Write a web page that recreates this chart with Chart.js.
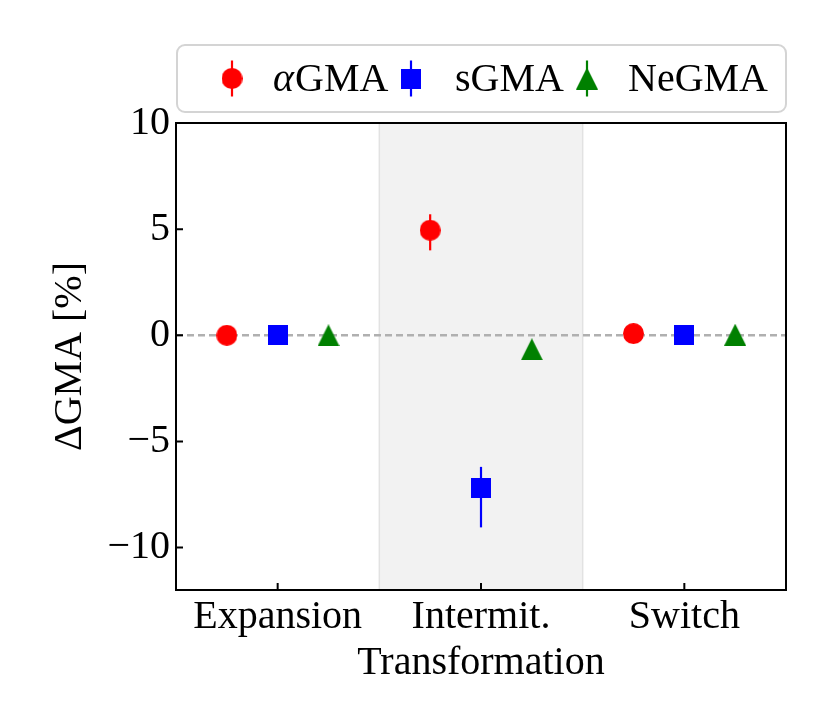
<!DOCTYPE html>
<html>
<head>
<meta charset="utf-8">
<script src="https://cdn.jsdelivr.net/npm/chart.js@4.4.0/dist/chart.umd.min.js"></script>
<style>
    html, body { margin: 0; padding: 0; background: #fff; }
    #wrap { width: 830px; height: 727px; }
</style>
</head>
<body>
<div id="wrap"><canvas id="chart" width="830" height="727"></canvas></div>
<script>
// categories on the x axis
const categories = ['Expansion', 'Intermit.', 'Switch'];
const seriesLabels = ['αGMA', 'sGMA', 'NeGMA'];
const seriesColors = ['#ff0000', '#0000ff', '#008000'];
const seriesMarkers = ['circle', 'square', 'triangle'];
const seriesOffsets = [-0.25, 0, 0.25];

// values in percent
const alphaValues = [0, 4.95, 0.08];
const alphaErrLow = [0.15, 0.95, 0.15];
const alphaErrHigh = [0.15, 0.75, 0.15];

const sValues = [0, -7.2, 0];
const sErrLow = [0.15, 1.85, 0.15];
const sErrHigh = [0.15, 1.0, 0.15];

const neValues = [0, -0.66, 0.03];
const neErrLow = [0.15, 0.2, 0.15];
const neErrHigh = [0.15, 0.2, 0.15];

const yTicks = [-10, -5, 0, 5, 10];
const yRange = [-12, 10];
const bandRange = [0.5, 1.5];

const FONT = "'Liberation Serif', 'Times New Roman', serif";

// marker images, centred like matplotlib markers
function makeMarker(kind, color, size) {
    const c = document.createElement('canvas');
    c.width = size; c.height = size;
    const g = c.getContext('2d');
    g.fillStyle = color;
    g.beginPath();
    if (kind === 'circle') {
        g.arc(size / 2, size / 2, size / 2, 0, Math.PI * 2);
    } else if (kind === 'square') {
        g.rect(0, 0, size, size);
    } else {
        g.moveTo(size / 2, 0);
        g.lineTo(size, size);
        g.lineTo(0, size);
        g.closePath();
    }
    g.fill();
    return c;
}

const markerSizes = [21, 20, 22];
const markerImages = seriesMarkers.map((m, i) => makeMarker(m, seriesColors[i], markerSizes[i]));

function buildPoints(values, lo, hi, offset) {
    return values.map((v, i) => ({ x: i + offset, y: v, lo: lo[i], hi: hi[i] }));
}

const allValues = [alphaValues, sValues, neValues];
const allLow = [alphaErrLow, sErrLow, neErrLow];
const allHigh = [alphaErrHigh, sErrHigh, neErrHigh];

const datasets = seriesLabels.map((label, k) => ({
    label: label,
    data: buildPoints(allValues[k], allLow[k], allHigh[k], seriesOffsets[k]),
    showLine: false,
    pointStyle: markerImages[k],
    pointRadius: markerSizes[k] / 2,
    backgroundColor: seriesColors[k],
    borderColor: seriesColors[k]
}));

const decorPlugin = {
    id: 'decor',
    beforeDatasetsDraw(chart) {
        const { ctx, chartArea: a, scales: { x, y } } = chart;
        ctx.save();
        // shaded band
        const x0 = x.getPixelForValue(bandRange[0]);
        const x1 = x.getPixelForValue(bandRange[1]);
        ctx.fillStyle = '#f2f2f2';
        ctx.fillRect(x0, a.top, x1 - x0, a.bottom - a.top);
        ctx.strokeStyle = '#e2e2e2';
        ctx.lineWidth = 1.5;
        ctx.beginPath();
        ctx.moveTo(x0, a.top); ctx.lineTo(x0, a.bottom);
        ctx.moveTo(x1, a.top); ctx.lineTo(x1, a.bottom);
        ctx.stroke();

        // zero line
        const y0 = y.getPixelForValue(0);
        ctx.setLineDash([7, 4]);
        ctx.strokeStyle = '#b0b0b0';
        ctx.lineWidth = 2.5;
        ctx.beginPath();
        ctx.moveTo(a.left, y0); ctx.lineTo(a.right, y0);
        ctx.stroke();
        ctx.setLineDash([]);

        // error bars
        chart.data.datasets.forEach((ds, k) => {
            ctx.strokeStyle = seriesColors[k];
            ctx.lineWidth = 2.2;
            ds.data.forEach(p => {
                const px = x.getPixelForValue(p.x);
                ctx.beginPath();
                ctx.moveTo(px, y.getPixelForValue(p.y - p.lo));
                ctx.lineTo(px, y.getPixelForValue(p.y + p.hi));
                ctx.stroke();
            });
        });
        ctx.restore();
    },
    afterDraw(chart) {
        const { ctx, chartArea: a, scales: { x, y } } = chart;
        ctx.save();
        // frame
        ctx.strokeStyle = '#000';
        ctx.lineWidth = 2;
        ctx.strokeRect(a.left, a.top, a.right - a.left, a.bottom - a.top);
        // inward ticks
        ctx.beginPath();
        yTicks.forEach(v => {
            const py = y.getPixelForValue(v);
            ctx.moveTo(a.left, py); ctx.lineTo(a.left + 7, py);
        });
        categories.forEach((c, i) => {
            const px = x.getPixelForValue(i);
            ctx.moveTo(px, a.bottom); ctx.lineTo(px, a.bottom - 7);
        });
        ctx.stroke();

        // legend
        const box = { left: a.left + 1, top: 45, width: a.right - a.left - 1, height: 67 };
        ctx.fillStyle = 'rgba(255,255,255,0.8)';
        ctx.strokeStyle = '#d4d4d4';
        ctx.lineWidth = 2;
        ctx.beginPath();
        ctx.roundRect(box.left, box.top, box.width, box.height, 8);
        ctx.fill();
        ctx.stroke();

        const cy = box.top + box.height / 2;
        const markerX = [232, 411, 587];
        const textX = [273, 455, 628];
        ctx.textBaseline = 'middle';
        ctx.textAlign = 'left';
        seriesLabels.forEach((label, k) => {
            ctx.strokeStyle = seriesColors[k];
            ctx.lineWidth = 2.2;
            ctx.beginPath();
            ctx.moveTo(markerX[k], cy - 18); ctx.lineTo(markerX[k], cy + 18);
            ctx.stroke();
            const img = markerImages[k];
            ctx.drawImage(img, markerX[k] - img.width / 2, cy - img.height / 2);
            ctx.fillStyle = '#000';
            let tx = textX[k];
            let rest = label;
            if (label.startsWith('α')) {
                ctx.font = 'italic 40px ' + FONT;
                ctx.fillText('α', tx, cy + 2);
                tx += ctx.measureText('α').width + 1;
                rest = label.slice(1);
            }
            ctx.font = '40px ' + FONT;
            ctx.fillText(rest, tx, cy + 2);
        });
        ctx.restore();
    }
};

new Chart(document.getElementById('chart'), {
    type: 'scatter',
    data: { datasets: datasets },
    plugins: [decorPlugin],
    options: {
        responsive: false,
        animation: false,
        events: [],
        layout: { padding: { left: 0, right: 44, top: 123, bottom: 0 } },
        plugins: {
            legend: { display: false },
            tooltip: { enabled: false }
        },
        scales: {
            x: {
                type: 'linear',
                min: -0.5,
                max: 2.5,
                afterBuildTicks: s => { s.ticks = categories.map((c, i) => ({ value: i })); },
                afterFit: s => { s.height = 137; },
                grid: { display: false, drawTicks: false },
                border: { display: false },
                ticks: {
                    padding: 3,
                    color: '#000',
                    font: { family: FONT, size: 40 },
                    callback: v => categories[v]
                },
                title: {
                    display: true,
                    text: 'Transformation',
                    color: '#000',
                    font: { family: FONT, size: 40 },
                    padding: { top: 0, bottom: 40 }
                }
            },
            y: {
                min: yRange[0],
                max: yRange[1],
                afterBuildTicks: s => { s.ticks = yTicks.map(v => ({ value: v })); },
                afterFit: s => { s.width = 176; },
                grid: { display: false, drawTicks: false },
                border: { display: false },
                ticks: {
                    padding: 6,
                    color: '#000',
                    font: { family: FONT, size: 40 },
                    callback: v => (v < 0 ? '\u2212' + Math.abs(v) : String(v))
                },
                title: {
                    display: true,
                    text: 'ΔGMA [%]',
                    color: '#000',
                    font: { family: FONT, size: 40 },
                    padding: { top: 46, bottom: 0 }
                }
            }
        }
    }
});
</script>
</body>
</html>
